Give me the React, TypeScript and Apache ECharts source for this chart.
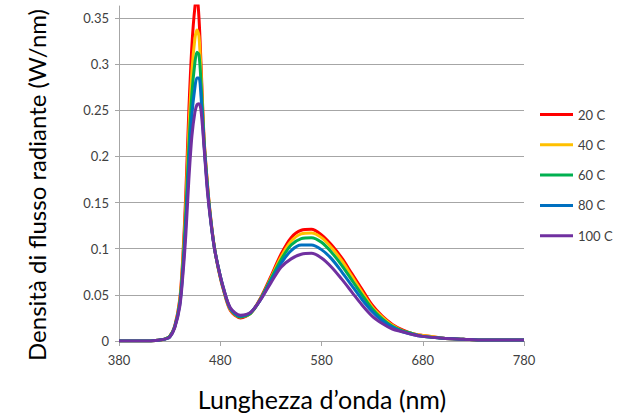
import React, { useEffect, useRef } from "react";
import * as echarts from "echarts";

const wavelengths = [380, 390, 400, 410, 420, 425, 430, 435, 440, 443, 446, 449, 452, 455, 457, 459, 461, 464, 467, 470, 474, 478, 483, 490, 500, 510, 520, 530, 540, 550, 560, 570, 580, 590, 600, 610, 620, 630, 640, 650, 660, 670, 680, 700, 720, 740, 760, 780];

const red20 = [0, 0, 0, 0, 0.001, 0.002, 0.005, 0.016, 0.045, 0.09, 0.16, 0.25, 0.32, 0.362, 0.372, 0.35, 0.3, 0.22, 0.175, 0.139, 0.103, 0.079, 0.056, 0.033, 0.025, 0.03, 0.047, 0.07, 0.094, 0.112, 0.12, 0.121, 0.115, 0.104, 0.09, 0.073, 0.056, 0.039, 0.027, 0.018, 0.012, 0.008, 0.006, 0.003, 0.002, 0.001, 0.001, 0.001];
const orange40 = [0, 0, 0, 0, 0.001, 0.002, 0.005, 0.015, 0.043, 0.085, 0.148, 0.228, 0.292, 0.328, 0.337, 0.33, 0.292, 0.218, 0.174, 0.138, 0.103, 0.079, 0.057, 0.034, 0.026, 0.03, 0.046, 0.068, 0.091, 0.108, 0.116, 0.117, 0.112, 0.101, 0.087, 0.07, 0.053, 0.037, 0.026, 0.017, 0.011, 0.008, 0.006, 0.003, 0.002, 0.001, 0.001, 0.001];
const green60 = [0, 0, 0, 0, 0.001, 0.002, 0.005, 0.015, 0.041, 0.08, 0.138, 0.21, 0.268, 0.302, 0.313, 0.31, 0.28, 0.216, 0.172, 0.137, 0.103, 0.08, 0.057, 0.035, 0.026, 0.03, 0.046, 0.067, 0.088, 0.104, 0.111, 0.112, 0.107, 0.096, 0.082, 0.066, 0.05, 0.035, 0.024, 0.016, 0.011, 0.008, 0.005, 0.003, 0.002, 0.001, 0.001, 0.001];
const blue80 = [0, 0, 0, 0, 0.001, 0.002, 0.004, 0.015, 0.039, 0.075, 0.127, 0.192, 0.245, 0.275, 0.285, 0.285, 0.265, 0.213, 0.17, 0.136, 0.102, 0.08, 0.058, 0.035, 0.027, 0.031, 0.045, 0.065, 0.084, 0.098, 0.104, 0.104, 0.099, 0.089, 0.075, 0.06, 0.045, 0.032, 0.022, 0.015, 0.01, 0.007, 0.005, 0.003, 0.002, 0.001, 0.001, 0.001];
const purple100 = [0, 0, 0, 0, 0.001, 0.002, 0.004, 0.014, 0.037, 0.07, 0.115, 0.175, 0.222, 0.248, 0.256, 0.257, 0.25, 0.21, 0.166, 0.135, 0.102, 0.08, 0.058, 0.036, 0.028, 0.031, 0.045, 0.063, 0.08, 0.089, 0.094, 0.095, 0.09, 0.08, 0.067, 0.053, 0.039, 0.027, 0.019, 0.013, 0.01, 0.007, 0.005, 0.003, 0.002, 0.001, 0.001, 0.001];

const seriesNames = ["20 C", "40 C", "60 C", "80 C", "100 C"];
const seriesColors = ["#FF0000", "#FFC000", "#00B050", "#0070C0", "#7030A0"];
const seriesValues = [red20, orange40, green60, blue80, purple100];

const yTicks = [0, 0.05, 0.1, 0.15, 0.2, 0.25, 0.3, 0.35];
const xTicks = [380, 480, 580, 680, 780];

const yTitle = "Densità di flusso radiante (W/nm)";
const xTitle = "Lunghezza d’onda (nm)";

const FONT = "Lato, 'Open Sans', sans-serif";

export default function App() {
  const ref = useRef<HTMLDivElement>(null);
  useEffect(() => {
    document.body.style.margin = "0";
    if (!ref.current) return;
    const chart = echarts.init(ref.current, undefined, { renderer: "svg" });
    const series: any[] = seriesValues.map((vals, i) => ({
      name: seriesNames[i],
      type: "line",
      data: wavelengths.map((w, j) => [w, vals[j]]),
      smooth: 0.3,
      symbol: "none",
      lineStyle: { color: seriesColors[i], width: 3 },
      itemStyle: { color: seriesColors[i] },
      z: 3 + i,
      markLine:
        i === 0
          ? {
              silent: true,
              symbol: "none",
              label: { show: false },
              lineStyle: { color: "#A6A6A6", width: 1, type: "solid" },
              data: yTicks.filter((v) => v > 0).map((v) => ({ yAxis: v })),
              z: 1,
            }
          : undefined,
    }));
    chart.setOption({
      animation: false,
      textStyle: { fontFamily: FONT },
      grid: { left: 119, right: 95, top: 6, bottom: 76, containLabel: false },
      xAxis: {
        type: "value",
        min: 380,
        max: 780,
        interval: 100,
        axisLine: { show: true, lineStyle: { color: "#A6A6A6", width: 1 } },
        axisTick: { show: true, length: 5, lineStyle: { color: "#A6A6A6" } },
        axisLabel: { color: "#404040", fontSize: 13, margin: 12, fontFamily: FONT, customValues: xTicks },
        splitLine: { show: false },
      },
      yAxis: {
        type: "value",
        min: 0,
        max: 0.363,
        interval: 0.05,
        axisLine: { show: true, lineStyle: { color: "#A6A6A6", width: 1 } },
        axisTick: { show: true, length: 4, lineStyle: { color: "#A6A6A6" }, customValues: yTicks },
        axisLabel: {
          color: "#404040",
          fontSize: 13,
          margin: 10,
          fontFamily: FONT,
          customValues: yTicks,
          formatter: (v: number) => String(Math.round(v * 100) / 100),
        },
        splitLine: { show: false },
      },
      legend: {
        orient: "vertical",
        left: 535,
        top: 103,
        itemWidth: 33,
        itemHeight: 3,
        itemGap: 17.3,
        icon: "rect",
        data: seriesNames.map((n, i) => ({ name: n, itemStyle: { color: seriesColors[i] } })),
        textStyle: { color: "#404040", fontSize: 13, fontFamily: FONT },
      },
      graphic: [
        {
          type: "text",
          x: 36,
          y: 185,
          rotation: Math.PI / 2,
          style: {
            text: yTitle,
            fontSize: 24,
            fontFamily: FONT,
            fill: "#000",
            align: "center",
            verticalAlign: "middle",
          },
        },
        {
          type: "text",
          x: 322,
          y: 399,
          style: {
            text: xTitle,
            fontSize: 25,
            fontFamily: FONT,
            fill: "#000",
            align: "center",
            verticalAlign: "middle",
          },
        },
      ],
      series,
    });
    return () => chart.dispose();
  }, []);
  return <div ref={ref} style={{ width: 619, height: 417 }} />;
}
